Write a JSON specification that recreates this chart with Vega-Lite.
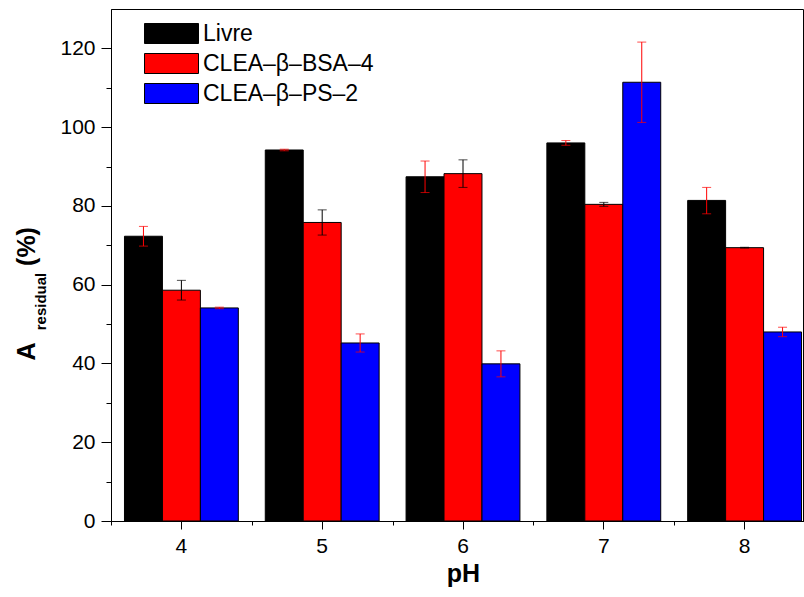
{
  "$schema": "https://vega.github.io/schema/vega-lite/v6.json",
  "autosize": {"type": "none"},
  "padding": {"left": 111, "top": 9, "right": 1, "bottom": 76},
  "width": 692,
  "height": 512,
  "background": "white",
  "config": {
    "font": "Liberation Sans",
    "view": {"stroke": "black", "strokeWidth": 1},
    "axis": {"grid": false, "domainColor": "black", "tickColor": "black", "labelColor": "black", "titleColor": "black"}
  },
  "data": {
    "values": [
      {"pH": "4", "series": "Livre", "value": 72.3, "lo": 69.8, "hi": 74.8},
      {"pH": "4", "series": "CLEA–β–BSA–4", "value": 58.6, "lo": 56.1, "hi": 61.1},
      {"pH": "4", "series": "CLEA–β–PS–2", "value": 54.1, "lo": 53.9, "hi": 54.3},
      {"pH": "5", "series": "Livre", "value": 94.2, "lo": 94.0, "hi": 94.4},
      {"pH": "5", "series": "CLEA–β–BSA–4", "value": 75.8, "lo": 72.6, "hi": 79.0},
      {"pH": "5", "series": "CLEA–β–PS–2", "value": 45.2, "lo": 42.9, "hi": 47.5},
      {"pH": "6", "series": "Livre", "value": 87.4, "lo": 83.4, "hi": 91.4},
      {"pH": "6", "series": "CLEA–β–BSA–4", "value": 88.2, "lo": 84.7, "hi": 91.7},
      {"pH": "6", "series": "CLEA–β–PS–2", "value": 39.9, "lo": 36.6, "hi": 43.2},
      {"pH": "7", "series": "Livre", "value": 96.0, "lo": 95.4, "hi": 96.6},
      {"pH": "7", "series": "CLEA–β–BSA–4", "value": 80.4, "lo": 79.9, "hi": 80.9},
      {"pH": "7", "series": "CLEA–β–PS–2", "value": 111.4, "lo": 101.2, "hi": 121.6},
      {"pH": "8", "series": "Livre", "value": 81.4, "lo": 78.0, "hi": 84.7},
      {"pH": "8", "series": "CLEA–β–BSA–4", "value": 69.4, "lo": 69.3, "hi": 69.5},
      {"pH": "8", "series": "CLEA–β–PS–2", "value": 48.0, "lo": 46.8, "hi": 49.2}
    ]
  },
  "resolve": {"axis": {"x": "independent", "y": "independent"}},
  "layer": [
    {
      "mark": {"type": "bar", "stroke": "black", "strokeWidth": 1},
      "encoding": {
        "x": {
          "field": "pH", "type": "nominal",
          "scale": {"range": [0, 704], "paddingInner": 0, "paddingOuter": 0},
          "axis": {
            "orient": "bottom", "labelAngle": 0, "tickSize": 8,
            "labelFontSize": 21, "labelPadding": 6,
            "title": "pH", "titleFontSize": 25, "titleFontWeight": "bold", "titlePadding": 5
          }
        },
        "xOffset": {
          "field": "series", "type": "nominal",
          "scale": {"domain": ["Livre", "CLEA–β–BSA–4", "CLEA–β–PS–2"], "paddingInner": 0, "paddingOuter": 0.355}
        },
        "y": {
          "field": "value", "type": "quantitative",
          "scale": {"domain": [0, 130], "nice": false, "zero": true},
          "axis": {
            "orient": "left",
            "values": [0, 10, 20, 30, 40, 50, 60, 70, 80, 90, 100, 110, 120],
            "labelExpr": "datum.value % 20 === 0 ? datum.label : ''",
            "tickSize": {"condition": {"test": "datum.value % 20 === 0", "value": 10}, "value": 5},
            "labelFontSize": 21, "labelPadding": 6,
            "title": "A", "titleFontSize": 25, "titleFontWeight": "bold",
            "titleAngle": 270, "titleAlign": "center", "titleBaseline": "alphabetic",
            "titleX": -77, "titleY": 342
          }
        },
        "fill": {
          "field": "series", "type": "nominal",
          "scale": {"domain": ["Livre", "CLEA–β–BSA–4", "CLEA–β–PS–2"], "range": ["#000000", "#ff0000", "#0000ff"]},
          "legend": {
            "orient": "none", "legendX": 49, "legendY": 13, "title": null,
            "symbolType": "M-2.7,-1H2.7V1H-2.7Z", "symbolSize": 400,
            "symbolStrokeColor": "black", "symbolStrokeWidth": 1,
            "labelFontSize": 23, "labelColor": "black", "labelOffset": 20, "labelLimit": 400, "rowPadding": 5
          }
        }
      }
    },
    {
      "mark": {"type": "rule", "strokeWidth": 1},
      "encoding": {
        "x": {
          "field": "pH", "type": "nominal",
          "axis": {"orient": "bottom", "tickBand": "extent", "labels": false, "domain": false, "title": null, "tickSize": 4}
        },
        "xOffset": {"field": "series", "type": "nominal"},
        "y": {
          "field": "lo", "type": "quantitative",
          "axis": {
            "orient": "left", "labels": false, "ticks": false, "domain": false,
            "title": "residual", "titleFontSize": 15, "titleFontWeight": "bold",
            "titleAngle": 270, "titleAlign": "center", "titleBaseline": "alphabetic",
            "titleX": -66, "titleY": 292
          }
        },
        "y2": {"field": "hi"},
        "color": {"condition": {"test": "datum.series === 'CLEA–β–BSA–4'", "value": "#000000"}, "value": "#ff0000"}
      }
    },
    {
      "mark": {"type": "tick", "orient": "horizontal", "size": 9, "thickness": 1},
      "encoding": {
        "x": {"field": "pH", "type": "nominal", "axis": null},
        "xOffset": {"field": "series", "type": "nominal"},
        "y": {
          "field": "lo", "type": "quantitative",
          "axis": {
            "orient": "left", "labels": false, "ticks": false, "domain": false,
            "title": "(%)", "titleFontSize": 25, "titleFontWeight": "bold",
            "titleAngle": 270, "titleAlign": "center", "titleBaseline": "alphabetic",
            "titleX": -77, "titleY": 237
          }
        },
        "color": {"condition": {"test": "datum.series === 'CLEA–β–BSA–4'", "value": "#000000"}, "value": "#ff0000"}
      }
    },
    {
      "mark": {"type": "tick", "orient": "horizontal", "size": 9, "thickness": 1},
      "encoding": {
        "x": {"field": "pH", "type": "nominal", "axis": null},
        "xOffset": {"field": "series", "type": "nominal"},
        "y": {"field": "hi", "type": "quantitative", "axis": null},
        "color": {"condition": {"test": "datum.series === 'CLEA–β–BSA–4'", "value": "#000000"}, "value": "#ff0000"}
      }
    }
  ]
}
